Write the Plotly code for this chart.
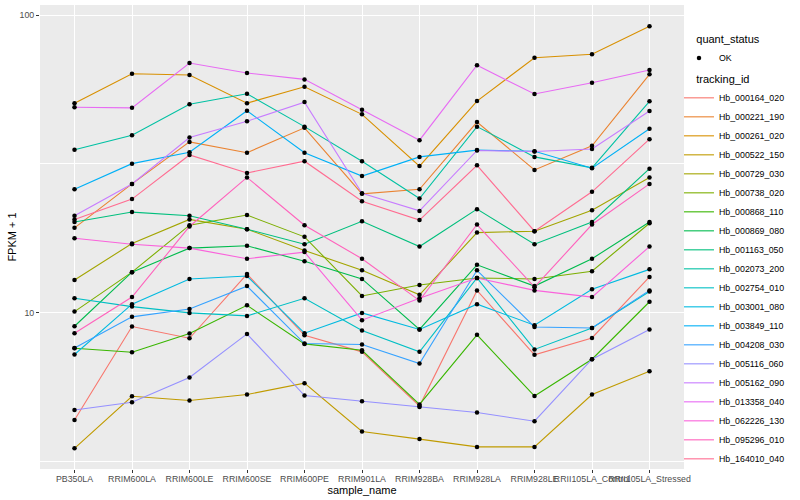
import plotly.graph_objects as go

# ---- data (FPKM + 1) ----
samples = ["PB350LA", "RRIM600LA", "RRIM600LE", "RRIM600SE", "RRIM600PE", "RRIM901LA",
           "RRIM928BA", "RRIM928LA", "RRIM928LE", "RRII105LA_Control", "RRII105LA_Stressed"]

tracking_ids = ["Hb_000164_020", "Hb_000221_190", "Hb_000261_020", "Hb_000522_150",
                "Hb_000729_030", "Hb_000738_020", "Hb_000868_110", "Hb_000869_080",
                "Hb_001163_050", "Hb_002073_200", "Hb_002754_010", "Hb_003001_080",
                "Hb_003849_110", "Hb_004208_030", "Hb_005116_060", "Hb_005162_090",
                "Hb_013358_040", "Hb_062226_130", "Hb_095296_010", "Hb_164010_040"]

Hb_000164_020 = [4.37, 9.00, 8.22, 13.5, 8.41, 7.40, 4.87, 11.9, 7.23, 8.24, 13.2]
Hb_000221_190 = [19.3, 27.1, 37.5, 34.5, 41.8, 25.1, 26.0, 43.7, 30.2, 36.4, 63.2]
Hb_000261_020 = [50.6, 63.5, 62.9, 50.6, 57.4, 46.4, 31.1, 51.4, 71.9, 73.8, 91.6]
Hb_000522_150 = [3.51, 5.25, 5.08, 5.32, 5.81, 4.00, 3.77, 3.55, 3.55, 5.32, 6.37]
Hb_000729_030 = [12.9, 17.1, 20.6, 19.1, 16.2, 13.9, 11.5, 18.6, 18.8, 22.1, 28.5]
Hb_000738_020 = [10.1, 13.7, 19.7, 21.3, 18.0, 11.4, 12.4, 13.1, 13.0, 13.8, 20.0]
Hb_000868_110 = [7.61, 7.38, 8.53, 10.6, 7.87, 7.49, 4.93, 8.44, 5.26, 6.99, 10.9]
Hb_000869_080 = [9.02, 13.7, 16.5, 16.8, 14.9, 13.0, 8.80, 14.5, 12.3, 15.2, 20.2]
Hb_001163_050 = [20.2, 21.8, 21.2, 19.1, 17.0, 20.3, 16.7, 22.3, 17.0, 20.2, 30.5]
Hb_002073_200 = [35.3, 39.5, 50.2, 54.4, 42.2, 32.3, 24.2, 42.2, 33.4, 30.7, 51.3]
Hb_002754_010 = [11.2, 10.5, 10.0, 9.77, 11.2, 8.73, 7.40, 13.1, 7.54, 8.90, 11.8]
Hb_003001_080 = [7.25, 10.7, 13.0, 13.3, 8.55, 10.0, 8.80, 10.7, 9.09, 12.0, 14.0]
Hb_003849_110 = [26.0, 31.7, 34.6, 47.7, 34.5, 28.8, 33.4, 35.2, 34.9, 30.6, 41.5]
Hb_004208_030 = [7.63, 9.70, 10.3, 12.3, 7.89, 7.83, 6.76, 13.9, 8.97, 8.90, 11.9]
Hb_005116_060 = [4.72, 5.01, 6.07, 8.50, 5.28, 5.05, 4.83, 4.63, 4.33, 6.99, 8.80]
Hb_005162_090 = [21.2, 27.1, 38.8, 44.0, 51.0, 25.2, 22.0, 35.1, 34.8, 35.5, 47.6]
Hb_013358_040 = [49.0, 48.8, 69.0, 63.9, 60.8, 48.1, 38.0, 67.8, 54.3, 59.2, 65.4]
Hb_062226_130 = [17.8, 17.0, 16.5, 15.2, 16.0, 9.45, 11.2, 13.1, 11.9, 11.3, 16.7]
Hb_095296_010 = [8.55, 11.3, 19.5, 28.5, 19.7, 15.2, 11.0, 19.8, 12.2, 19.8, 27.1]
Hb_164010_040 = [20.6, 24.1, 33.9, 29.5, 32.3, 23.7, 20.5, 31.3, 18.8, 25.5, 38.3]

series_values = [Hb_000164_020, Hb_000221_190, Hb_000261_020, Hb_000522_150,
                 Hb_000729_030, Hb_000738_020, Hb_000868_110, Hb_000869_080,
                 Hb_001163_050, Hb_002073_200, Hb_002754_010, Hb_003001_080,
                 Hb_003849_110, Hb_004208_030, Hb_005116_060, Hb_005162_090,
                 Hb_013358_040, Hb_062226_130, Hb_095296_010, Hb_164010_040]

quant_status = "OK"

y_tickvals = [10, 100]
y_ticktext = ["10", "100"]

# ggplot2 default hue palette for 20 groups
colors = ["#F8766D", "#EA8331", "#D89000", "#C09B00", "#A3A500", "#7CAE00", "#39B600",
          "#00BB4E", "#00BF7D", "#00C1A3", "#00BFC4", "#00BAE0", "#00B0F6", "#35A2FF",
          "#9590FF", "#C77CFF", "#E76BF3", "#FA62DB", "#FF62BC", "#FF6C91"]

FONT = "Liberation Sans, Arial, Helvetica, sans-serif"
PAD = "&nbsp;" * 5  # indent legend titles like ggplot

fig = go.Figure()

for tid, vals, col in zip(tracking_ids, series_values, colors):
    fig.add_trace(go.Scatter(
        x=samples, y=vals, mode="lines", name=tid,
        line=dict(color=col, width=1.1),
        legend="legend2", hoverinfo="skip"))

for i, vals in enumerate(series_values):
    fig.add_trace(go.Scatter(
        x=samples, y=vals, mode="markers", name=quant_status,
        marker=dict(color="black", size=4.5),
        legend="legend", showlegend=(i == 0)))

fig.update_layout(
    width=800, height=500, autosize=False,
    margin=dict(l=40, r=116, t=5, b=31, pad=0),
    paper_bgcolor="white", plot_bgcolor="#EBEBEB",
    font=dict(family=FONT, size=11, color="black"),
    showlegend=True,
    xaxis=dict(
        type="category", categoryorder="array", categoryarray=samples,
        range=[-0.6, 10.6], showgrid=True, gridcolor="white", gridwidth=1.1,
        ticks="outside", ticklen=3, tickwidth=1.1, tickcolor="#333333",
        tickangle=0, ticklabelstandoff=-2,
        tickfont=dict(family=FONT, size=8.8, color="#4D4D4D"),
        title=dict(text="sample_name", font=dict(family=FONT, size=11, color="black"), standoff=0),
        zeroline=False, showline=False),
    yaxis=dict(
        type="log", range=[0.476, 2.0336],
        tickmode="array", tickvals=y_tickvals, ticktext=y_ticktext,
        showgrid=True, gridcolor="white", gridwidth=1.1,
        minor=dict(tickmode="array", tickvals=[10 ** 0.5, 10 ** 1.5], showgrid=True,
                   gridcolor="white", gridwidth=0.55, ticks=""),
        ticks="outside", ticklen=3, tickwidth=1.1, tickcolor="#333333",
        tickfont=dict(family=FONT, size=8.8, color="#4D4D4D"),
        title=dict(text="FPKM + 1", font=dict(family=FONT, size=11, color="black"), standoff=0),
        zeroline=False, showline=False),
    legend=dict(
        title=dict(text=PAD + "quant_status", font=dict(family=FONT, size=11, color="black")),
        x=0.9922, xanchor="left", y=0.948, yanchor="top",
        font=dict(family=FONT, size=8.8, color="black"),
        bgcolor="rgba(0,0,0,0)", borderwidth=0),
    legend2=dict(
        title=dict(text=PAD + "tracking_id", font=dict(family=FONT, size=11, color="black")),
        x=0.9922, xanchor="left", y=0.862, yanchor="top",
        font=dict(family=FONT, size=8.8, color="black"),
        bgcolor="rgba(0,0,0,0)", borderwidth=0),
)

fig.write_html("out.html", config={"displayModeBar": False},
               post_script="document.body.style.margin='0px';")
